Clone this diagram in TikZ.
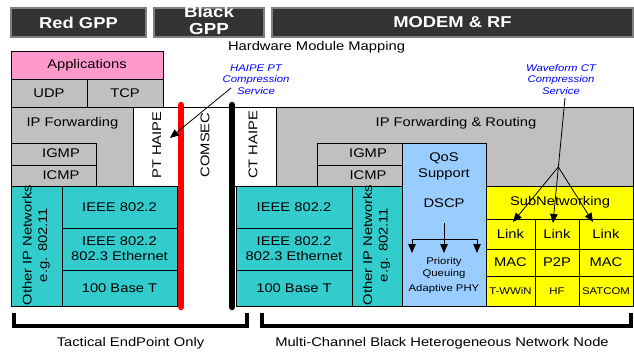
\documentclass[tikz,border=0pt]{standalone}
\usepackage{fontspec}
\setmainfont{Liberation Sans}[FakeStretch=1.17]
\usetikzlibrary{arrows.meta}
\definecolor{cgray}{HTML}{C0C0C0}
\definecolor{cteal}{HTML}{33CCCC}
\definecolor{cpink}{HTML}{FF99CC}
\definecolor{cblue}{HTML}{99CCFF}
\definecolor{cyel}{HTML}{FFFF00}
\definecolor{chdr}{HTML}{333333}
\definecolor{chdrline}{HTML}{808080}
\begin{document}
\begin{tikzpicture}[x=1pt,y=-1pt,
  cell/.style={draw=black, line width=0.8pt, inner sep=0pt, outer sep=0pt, anchor=north west, align=center, font=\fontsize{12.6}{15}\selectfont},
  hdr/.style={draw=chdrline, line width=1.2pt, fill=chdr, text=white, font=\bfseries\fontsize{15.7}{15}\selectfont, inner sep=0pt, outer sep=0pt, anchor=north west, align=center},
  lbl/.style={font=\fontsize{12.6}{15.5}\selectfont, inner sep=0pt, align=center},
  small/.style={font=\fontsize{9.7}{12}\selectfont, inner sep=0pt, align=center},
  note/.style={text=blue, font=\itshape\fontsize{9.7}{11.5}\selectfont, inner sep=0pt, align=center},
  bar/.style={line width=6.5pt, line cap=round},
  brace/.style={line width=3.5pt, line join=miter},
  arr/.style={-{Triangle[length=9pt,width=7.5pt]}, line width=0.8pt}
]
\useasboundingbox (0,0) rectangle (634,354);
% headers
\node[hdr, minimum width=135pt, minimum height=29pt] (red) at (11,8) {Red GPP};
\node[hdr, minimum width=110pt, minimum height=29pt] (blk) at (154,8) {};
\node[text=white, font=\bfseries\fontsize{16}{17.5}\selectfont, inner sep=0pt, align=center] (blkt) at (209,20.4) {Black\\GPP};
\node[hdr, minimum width=361pt, minimum height=29pt] (modem) at (272,8) {MODEM \& RF};
\node[lbl] (hmm) at (316.5,47) {Hardware Module Mapping};
% red side stack
\node[cell, fill=cpink, minimum width=152pt, minimum height=28pt] (app) at (11,51) {Applications};
\node[cell, fill=cgray, minimum width=76pt, minimum height=28pt] (udp) at (11,79) {UDP};
\node[cell, fill=cgray, minimum width=76pt, minimum height=28pt] (tcp) at (87,79) {TCP};
\node[cell, fill=cgray, minimum width=122pt, minimum height=79pt] (ipf) at (11,107) {};
\node[lbl] (ipft) at (72.5,123) {IP Forwarding};
\node[cell, fill=cgray, minimum width=85pt, minimum height=22pt] (igmp1) at (11,143) {};
\node[lbl] (igmp1t) at (61,153.5) {IGMP};
\node[cell, fill=cgray, minimum width=85pt, minimum height=21pt] (icmp1) at (11,165) {};
\node[lbl] (icmp1t) at (61,175.5) {ICMP};
\node[cell, fill=white, minimum width=48pt, minimum height=79pt] (pth) at (133,107) {};
\node[lbl, rotate=90] (ptht) at (156.7,145) {PT HAIPE};
\coordinate (cs1) at (181,107);
\coordinate (cs2) at (232,107);
\draw[line width=0.8pt] (cs1) -- (cs2);
\node[lbl, rotate=90] (comsec) at (205,145) {COMSEC};
\node[cell, fill=white, minimum width=44pt, minimum height=79pt] (cth) at (232,107) {};
\node[lbl, rotate=90] (ctht) at (253,145) {CT HAIPE};
% left teal
\node[cell, fill=cteal, minimum width=51pt, minimum height=120pt] (oip1) at (11,186) {};
\node[lbl, rotate=90] (oip1t) at (36,245) {Other IP Networks\\e.g. 802.11};
\node[cell, fill=cteal, minimum width=115pt, minimum height=42pt] (ie1) at (62,186) {IEEE 802.2};
\node[cell, fill=cteal, minimum width=115pt, minimum height=42pt] (eth1) at (62,228) {IEEE 802.2\\802.3 Ethernet};
\node[cell, fill=cteal, minimum width=115pt, minimum height=36pt] (bt1) at (62,270) {100 Base T};
% right gray
\node[cell, fill=cgray, minimum width=357pt, minimum height=79pt] (ipr) at (276,107) {};
\node[lbl] (iprt) at (456,123) {IP Forwarding \& Routing};
\node[cell, fill=cgray, minimum width=85pt, minimum height=22pt] (igmp2) at (317,143) {};
\node[lbl] (igmp2t) at (368,153.5) {IGMP};
\node[cell, fill=cgray, minimum width=85pt, minimum height=21pt] (icmp2) at (317,165) {};
\node[lbl] (icmp2t) at (368,175.5) {ICMP};
% right teal
\node[cell, fill=cteal, minimum width=116pt, minimum height=42pt] (ie2) at (236,186) {IEEE 802.2};
\node[cell, fill=cteal, minimum width=116pt, minimum height=42pt] (eth2) at (236,228) {IEEE 802.2\\802.3 Ethernet};
\node[cell, fill=cteal, minimum width=116pt, minimum height=36pt] (bt2) at (236,270) {100 Base T};
\node[cell, fill=cteal, minimum width=50pt, minimum height=120pt] (oip2) at (352,186) {};
\node[lbl, rotate=90] (oip2t) at (376.5,245) {Other IP Networks\\e.g. 802.11};
% QoS
\node[cell, fill=cblue, minimum width=84pt, minimum height=163pt] (qos) at (402,143) {};
\node[lbl, font=\fontsize{12.6}{16}\selectfont] (qost) at (444,166.5) {QoS\\Support};
\node[lbl] (dscp) at (444,203) {DSCP};
\node[small] (pq) at (444,268) {Priority\\Queuing};
\node[small] (aphy) at (444,289) {Adaptive PHY};
\coordinate (d0) at (444,223);
\coordinate (dm) at (444,239);
\coordinate (dl) at (412,239);
\coordinate (dr) at (477,239);
\coordinate (dle) at (412,253);
\coordinate (dme) at (444,253);
\coordinate (dre) at (477,253);
\draw[arr] (d0) -- (dme);
\draw[line width=0.8pt] (dl) -- (dr);
\draw[arr] (dl) -- (dle);
\draw[arr] (dr) -- (dre);
% yellow
\node[cell, fill=cyel, minimum width=147pt, minimum height=33pt] (sub) at (486,186) {};
\node[lbl] (subt) at (560,202) {SubNetworking};
\node[cell, fill=cyel, minimum width=49pt, minimum height=30pt] (lk1) at (486,219) {Link};
\node[cell, fill=cyel, minimum width=44pt, minimum height=30pt] (lk2) at (535,219) {Link};
\node[cell, fill=cyel, minimum width=54pt, minimum height=30pt] (lk3) at (579,219) {Link};
\node[cell, fill=cyel, minimum width=49pt, minimum height=27pt] (mac1) at (486,249) {MAC};
\node[cell, fill=cyel, minimum width=44pt, minimum height=27pt] (p2p) at (535,249) {P2P};
\node[cell, fill=cyel, minimum width=54pt, minimum height=27pt] (mac2) at (579,249) {MAC};
\node[cell, fill=cyel, minimum width=49pt, minimum height=30pt, font=\fontsize{9.7}{12}\selectfont] (tw) at (486,276) {T-WWiN};
\node[cell, fill=cyel, minimum width=44pt, minimum height=30pt, font=\fontsize{9.7}{12}\selectfont] (hf) at (535,276) {HF};
\node[cell, fill=cyel, minimum width=54pt, minimum height=30pt, font=\fontsize{9.7}{12}\selectfont] (sat) at (579,276) {SATCOM};
% bars
\coordinate (rt) at (181,105); \coordinate (rb) at (181,307);
\coordinate (bt) at (232,105); \coordinate (bb) at (232,307);
\draw[bar, red] (rt) -- (rb);
\draw[bar, black] (bt) -- (bb);
% notes
\node[note] (hnote) at (256,79.5) {HAIPE PT\\Compression\\Service};
\node[note] (wnote) at (561,79.5) {Waveform CT\\Compression\\Service};
\coordinate (ha1) at (231,88);
\coordinate (ha2) at (170,138);
\draw[arr] (ha1) -- (ha2);
\coordinate (w0) at (565,98);
\coordinate (wf) at (558.3,167);
\coordinate (w1) at (513,222);
\coordinate (w2) at (553,223);
\coordinate (w3) at (593,222);
\draw[arr] (w0) -- (w2);
\draw[arr] (wf) -- (w1);
\draw[arr] (wf) -- (w3);
% brackets
\coordinate (lb1) at (14,313); \coordinate (lb2) at (14,326);
\coordinate (lb3) at (247,326); \coordinate (lb4) at (247,313);
\draw[brace] (lb1) -- (lb2) -- (lb3) -- (lb4);
\coordinate (rb1) at (262,313); \coordinate (rb2) at (262,326);
\coordinate (rb3) at (631,326); \coordinate (rb4) at (631,313);
\draw[brace] (rb1) -- (rb2) -- (rb3) -- (rb4);
\node[lbl] (tac) at (130.5,343) {Tactical EndPoint Only};
\node[lbl] (mcb) at (442,343) {Multi-Channel Black Heterogeneous Network Node};
\end{tikzpicture}
\end{document}
